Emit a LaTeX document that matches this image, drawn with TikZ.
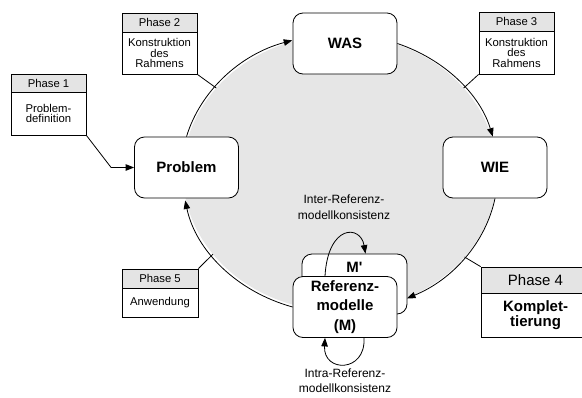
\documentclass[tikz,border=0pt]{standalone}
\usepackage{fontspec}
\setmainfont{Liberation Sans}[Ligatures=TeXOff]
\usetikzlibrary{arrows.meta,calc}
\definecolor{ellgray}{HTML}{E6E6E6}
\definecolor{hdrgray}{HTML}{E4E4E4}
\begin{document}
\begin{tikzpicture}[x=1pt,y=-1pt,
  line width=0.8pt,
  arr/.style={-{Triangle[length=8.5pt,width=6.5pt]}},
  rbox/.style={draw, fill=white, rounded corners=10pt, minimum width=104pt, minimum height=61pt, inner sep=0pt, align=center, font=\fontsize{15}{19.5}\selectfont\bfseries},
  phhead/.style={draw, fill=hdrgray, minimum width=75pt, inner sep=0pt, font=\fontsize{11.3}{10.5}\selectfont},
  phbody/.style={draw, fill=white, minimum width=75pt, inner sep=0pt, align=center, font=\fontsize{11.3}{10.5}\selectfont},
  small/.style={align=center, inner sep=0pt, font=\fontsize{12}{15.5}\selectfont},
]
\useasboundingbox (0,0) rectangle (582,397);
\coordinate (E) at (340,173);
\fill[ellgray] (E) ellipse [x radius=157pt, y radius=138pt];

% phase boxes
\node[phhead, minimum height=18pt] (p1h) at (48.5,83) {Phase 1};
\node[phbody, minimum height=43pt] (p1) at (48.5,113.5) {Problem-\\definition};
\node[phhead, minimum height=19pt] (p2h) at (159.5,22.5) {Phase 2};
\node[phbody, minimum height=42pt] (p2) at (159.5,53) {Konstruktion\\des\\Rahmens};
\node[phhead, minimum height=19pt] (p3h) at (516.5,21.5) {Phase 3};
\node[phbody, minimum height=43pt] (p3) at (516.5,52.5) {Konstruktion\\des\\Rahmens};
\node[phhead, minimum height=19pt, minimum width=76pt] (p5h) at (160,278.5) {Phase 5};
\node[phbody, minimum height=29pt, minimum width=76pt] (p5) at (160,302.5) {Anwendung};
\node[phhead, minimum height=26pt, minimum width=109pt, font=\fontsize{15}{15}\selectfont] (p4h) at (535.5,280) {Phase 4};
\node[phbody, minimum height=44pt, minimum width=109pt, font=\fontsize{15}{11.5}\selectfont\bfseries] (p4) at (535.5,315) {Komplet-\\tierung};

% main boxes
\node[rbox] (WAS) at (345,43.5) {WAS};
\node[rbox] (WIE) at (495,167.5) {WIE};
\node[rbox] (Problem) at (186.5,167.5) {Problem};
\node[rbox, minimum width=105pt, minimum height=60pt,
  label={[font=\fontsize{15}{15}\selectfont\bfseries, anchor=north, inner sep=0pt, yshift=-8pt]north:M'}] (Mp) at (354.5,284) {};
\node[rbox] (Ref) at (345,307) {Referenz-\\modelle\\(M)};

% cycle arcs
\draw[arr] (Problem.north) arc[start angle=165, end angle=107, x radius=157pt, y radius=138pt];
\draw[arr] (WAS.east) arc[start angle=69, end angle=15, x radius=157pt, y radius=138pt];
\draw[arr] (WIE.south) arc[start angle=-10.5, end angle=-65, x radius=157pt, y radius=138pt];
\draw[arr] (Ref.west) arc[start angle=252.6, end angle=190.5, x radius=157pt, y radius=138pt];

% phase connectors
\draw[arr] (p1.south east) -- ([xshift=-23pt]Problem.west) -- (Problem.west);
\draw (p2.south east) -- ($(E)+(142:157pt and 138pt)$);
\draw (p3.south west) -- ($(E)+(38:157pt and 138pt)$);
\draw (p5h.north east) -- ($(E)+(216:157pt and 138pt)$);
\draw (p4h.north west) -- ($(E)+(-37.5:157pt and 138pt)$);

% consistency loops
\draw[arr] ([xshift=-20pt]Ref.north) .. controls +(3,-52) and +(-5,-29) .. ([xshift=11pt]Mp.north);
\draw[arr] ([xshift=19pt]Ref.south) .. controls +(2,35) and +(-2,35) .. ([xshift=-20pt]Ref.south);

\node[small] (inter) at (344,207) {Inter-Referenz-\\modellkonsistenz};
\node[small] (intra) at (345,380.5) {Intra-Referenz-\\modellkonsistenz};
\end{tikzpicture}
\end{document}
